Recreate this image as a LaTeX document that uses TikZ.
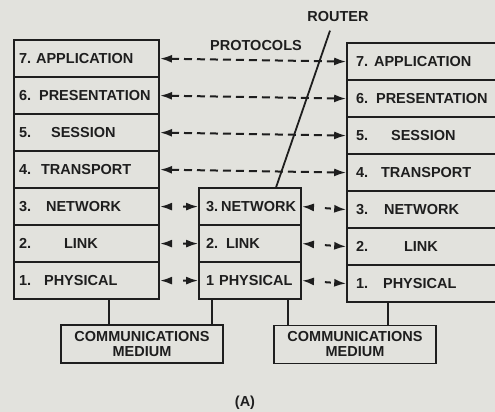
\documentclass[tikz,border=0pt]{standalone}
\usepackage{fontspec}
\setmainfont{Liberation Sans}
\usepackage{tikz}
\usetikzlibrary{matrix,arrows.meta}
\definecolor{paper}{RGB}{226,226,221}
\definecolor{ink}{RGB}{30,30,30}
\newcommand{\lay}[3]{\makebox[#1][l]{#2}#3}

\begin{document}
\begin{tikzpicture}[x=1pt,y=-1pt,
            every node/.style={font=\fontsize{14.5}{15}\selectfont\bfseries,text=ink},
            layer/.style={draw=ink,line width=1.8pt,minimum height=37pt,align=left},
            stack/.style={matrix of nodes,inner sep=0pt,row sep=-1.8pt,anchor=north west},
            proto/.style={draw=ink,line width=2pt,dash pattern=on 8pt off 5pt,
                {Latex[length=12pt,width=8pt]}-{Latex[length=12pt,width=8pt]}},
            hop/.style={proto,dash pattern=on 6pt off 40pt,dash phase=34pt},
            medium/.style={draw=ink,line width=1.8pt,minimum width=162pt,minimum height=38pt,align=center},
            link/.style={draw=ink,line width=1.8pt}]
            \path[use as bounding box,fill=paper] (0,0) rectangle (495,412);

            \matrix (L) [stack,nodes={layer,inner xsep=5pt,text width=135pt}] at (13,39)
            {
                \lay{17pt}{7.}{APPLICATION}  \\
                \lay{20pt}{6.}{PRESENTATION} \\
                \lay{32pt}{5.}{SESSION}      \\
                \lay{22pt}{4.}{TRANSPORT}    \\
                \lay{27pt}{3.}{NETWORK}      \\
                \lay{45pt}{2.}{LINK}         \\
                \lay{25pt}{1.}{PHYSICAL}     \\
            };
            \matrix (Rt) [stack,nodes={layer,inner xsep=7pt,text width=88pt}] at (198,187)
            {
                \lay{15pt}{3.}{NETWORK}  \\
                \lay{20pt}{2.}{LINK}     \\
                \lay{13pt}{1}{PHYSICAL}  \\
            };
            \matrix (R) [stack,nodes={layer,inner xsep=9pt,text width=136pt}] at (346,42)
            {
                \lay{18pt}{7.}{APPLICATION}  \\
                \lay{20pt}{6.}{PRESENTATION} \\
                \lay{35pt}{5.}{SESSION}      \\
                \lay{25pt}{4.}{TRANSPORT}    \\
                \lay{28pt}{3.}{NETWORK}      \\
                \lay{48pt}{2.}{LINK}         \\
                \lay{27pt}{1.}{PHYSICAL}     \\
            };

            \node (prot) at (256,46) {PROTOCOLS};
            \node (rtr) at (338,17) {ROUTER};
            \node[medium] (medL) at (142,344) {COMMUNICATIONS\\MEDIUM};
            \node[medium] (medR) at (355,344.5) {COMMUNICATIONS\\MEDIUM};
            \node (cap) at (245,403) {(A)};

            \foreach \r in {1,...,4}
                \draw[proto] (L-\r-1.east) -- (R-\r-1.west);
            \foreach \r/\s in {5/1,6/2,7/3}{
                \draw[hop] (L-\r-1.east) -- (Rt-\s-1.west);
                \draw[hop] (Rt-\s-1.east) -- (R-\r-1.west);
            }

            \draw[link] ([xshift=-8pt,yshift=-5pt]rtr.south) -- ([xshift=26pt]Rt-1-1.north);
            \draw[link] ([xshift=22.5pt]L-7-1.south) coordinate (a) -- (a |- medL.north);
            \draw[link] ([xshift=-38pt]Rt-3-1.south) coordinate (b) -- (b |- medL.north);
            \draw[link] ([xshift=38pt]Rt-3-1.south) coordinate (c) -- (c |- medR.north);
            \draw[link] ([xshift=-36pt]R-7-1.south) coordinate (d) -- (d |- medR.north);
        \end{tikzpicture}
\end{document}
